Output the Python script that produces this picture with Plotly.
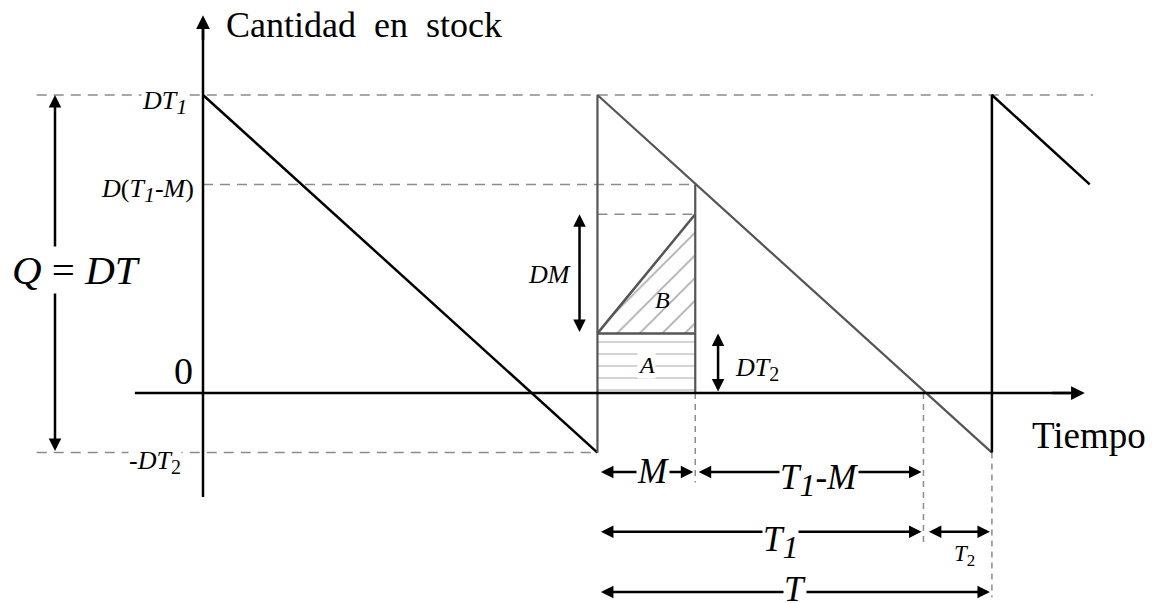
import plotly.graph_objects as go

# ---- data (diagram values) ----
T1 = 10.0          # time until stock reaches zero
M = 3.0            # credit period
T2 = 2.1           # shortage period
T = T1 + T2        # cycle length
cycle_starts = [0.0, T, 2 * T]
stock_levels = [10.0, 7.0, 6.0, 2.0, 0.0, -2.0]   # DT1, D(T1-M), DM top, DT2, 0, -DT2


def sub(s, px):
    return "<sub><span style='font-size:%dpx'>%s</span></sub>" % (px, s)


level_labels = ["<i>DT</i>" + sub("<i>1</i>", 22),
                "<i>D</i>(<i>T</i>" + sub("<i>1</i>", 22) + "-<i>M</i>)",
                "", "", "0",
                "-<i>DT</i>" + sub("2", 20)]
DT1, DT1M, DMTOP, DT2, ZERO, NDT2 = stock_levels

FONT = "Liberation Serif"
GRAY = "#555555"
DASH = "#8c8c8c"

fig = go.Figure()


def line(xs, ys, color="black", width=2.5, dash=None):
    fig.add_trace(go.Scatter(x=xs, y=ys, mode="lines", hoverinfo="skip",
                             line=dict(color=color, width=width, dash=dash)))


# hatched area A (rectangle) and B (triangle)
fig.add_trace(go.Scatter(x=[T, T + M, T + M, T, T], y=[ZERO, ZERO, DT2, DT2, ZERO],
                         mode="lines", fill="toself", line=dict(width=0), fillcolor="white",
                         fillpattern=dict(shape="-", fgcolor="#707070", bgcolor="white",
                                          size=12, solidity=0.1), hoverinfo="skip"))
fig.add_trace(go.Scatter(x=[T, T + M, T + M, T], y=[DT2, DMTOP, DT2, DT2],
                         mode="lines", fill="toself", line=dict(width=0), fillcolor="white",
                         fillpattern=dict(shape="/", fgcolor="#555555", bgcolor="white",
                                          size=16, solidity=0.1), hoverinfo="skip"))

# dashed guide lines
line([-5.1, 27.3], [DT1, DT1], DASH, 1.5, "10px,7px")
line([0, T + M], [DT1M, DT1M], DASH, 1.5, "10px,7px")
line([-5.1, T], [NDT2, NDT2], DASH, 1.5, "10px,7px")
line([T, T + M], [DMTOP, DMTOP], DASH, 1.5, "10px,7px")
line([T + M, T + M], [ZERO, -3.0], DASH, 1.5, "6px,5px")
line([T + T1, T + T1], [ZERO, -5.17], DASH, 1.5, "6px,5px")
line([2 * T, 2 * T], [NDT2, -6.85], DASH, 1.5, "6px,5px")

# inventory sawtooth
c0, c1, c2 = cycle_starts
line([c0, c0 + T], [DT1, NDT2], "black", 2.5)
line([c1, c1, c1 + T], [NDT2, DT1, NDT2], GRAY, 2.2)
line([c2, c2, c2 + M], [NDT2, DT1, DT1M], "black", 2.5)

# A/B borders
line([T + M, T + M], [ZERO, DT1M], GRAY, 2.2)
line([T, T + M], [DT2, DT2], GRAY, 2.5)
line([T, T + M], [DT2, DMTOP], GRAY, 2.5)

# axes
line([-2.09, 26.6], [0, 0], "black", 2.5)
line([0, 0], [-3.49, 12.3], "black", 2.5)


def arrow(x0, y0, x1, y1, both=True, width=2.5, size=1.0):
    fig.add_annotation(x=x1, y=y1, ax=x0, ay=y0, xref="x", yref="y", axref="x", ayref="y",
                       text="", showarrow=True, arrowhead=2, startarrowhead=2,
                       arrowside="end+start" if both else "end",
                       arrowwidth=width, arrowsize=size, startarrowsize=size,
                       arrowcolor="black")


arrow(26.0, 0, 27.05, 0, both=False, size=1.1)
arrow(0, 11.8, 0, 12.68, both=False, size=1.1)

g = 0.06
yM, yT1, yT = -2.65, -4.66, -6.68
arrow(T + g, yM, T + M - g, yM)
arrow(T + M + g, yM, T + T1 - g, yM)
arrow(T + g, yT1, T + T1 - g, yT1)
arrow(T + T1 + 0.12, yT1, 2 * T - g, yT1)
arrow(T + g, yT, 2 * T - g, yT)
arrow(-4.54, NDT2, -4.54, DT1)
arrow(T - 0.55, DT2, T - 0.55, DMTOP)
arrow(T + 3.7, ZERO, T + 3.7, DT2)


def label(x, y, text, size=24, xanchor="center", bg="white", yanchor="middle"):
    fig.add_annotation(x=x, y=y, xref="x", yref="y", text=text, showarrow=False,
                       xanchor=xanchor, yanchor=yanchor, bgcolor=bg, borderpad=0,
                       font=dict(family=FONT, size=size, color="black"))


NOBG = "rgba(0,0,0,0)"
label(-1.17, DT1 - 0.25, level_labels[0], 26)
label(-0.25, DT1M - 0.2, level_labels[1], 26, xanchor="right")
label(-0.6, 0.75, level_labels[4], 38, bg=NOBG)
label(-1.47, NDT2 - 0.3, level_labels[5], 26)
label(-3.87, 4.13, "<i>Q</i> = <i>DT</i>", 41)
label(0.675, 12.35, "Cantidad  en  stock", 36, xanchor="left")
label(25.4, -1.41, "Tiempo", 37, xanchor="left")
label(T - 0.78, 3.96, "<i>DM</i>", 26, xanchor="right", bg=NOBG)
label(T + 4.2, 0.8, "<i>DT</i>" + sub("2", 20), 26, xanchor="left", bg=NOBG)
label(T + 2.0, 3.12, "<i>B</i>", 24, bg=NOBG)
label(T + M / 2, 0.94, "<i>A</i>", 24)
label(T + M / 2 + 0.2, yM, "<i>M</i>", 35)
label(T + (T1 + M) / 2 + 0.3, yM - 0.3, "<i>T</i>" + sub("<i>1</i>", 32) + "-<i>M</i>", 35)
label(T + T1 / 2 + 0.6, yT1 - 0.35, "<i>T</i>" + sub("<i>1</i>", 32), 35)
label(T + T1 + T2 / 2 + 0.2, yT1 - 0.8, "<i>T</i>" + sub("2", 17), 23, bg=NOBG)
label(T + T / 2, yT + 0.1, "<i>T</i>", 35)

fig.update_layout(width=1161, height=603, margin=dict(l=0, r=0, t=0, b=0),
                  paper_bgcolor="white", plot_bgcolor="white", showlegend=False,
                  xaxis=dict(range=[-6.227, 29.387], visible=False, fixedrange=True),
                  yaxis=dict(range=[-7.047, 13.188], visible=False, fixedrange=True))

fig.write_html("out.html", config={"displayModeBar": False},
               post_script="document.body.style.margin='0px';document.body.style.overflow='hidden';")
